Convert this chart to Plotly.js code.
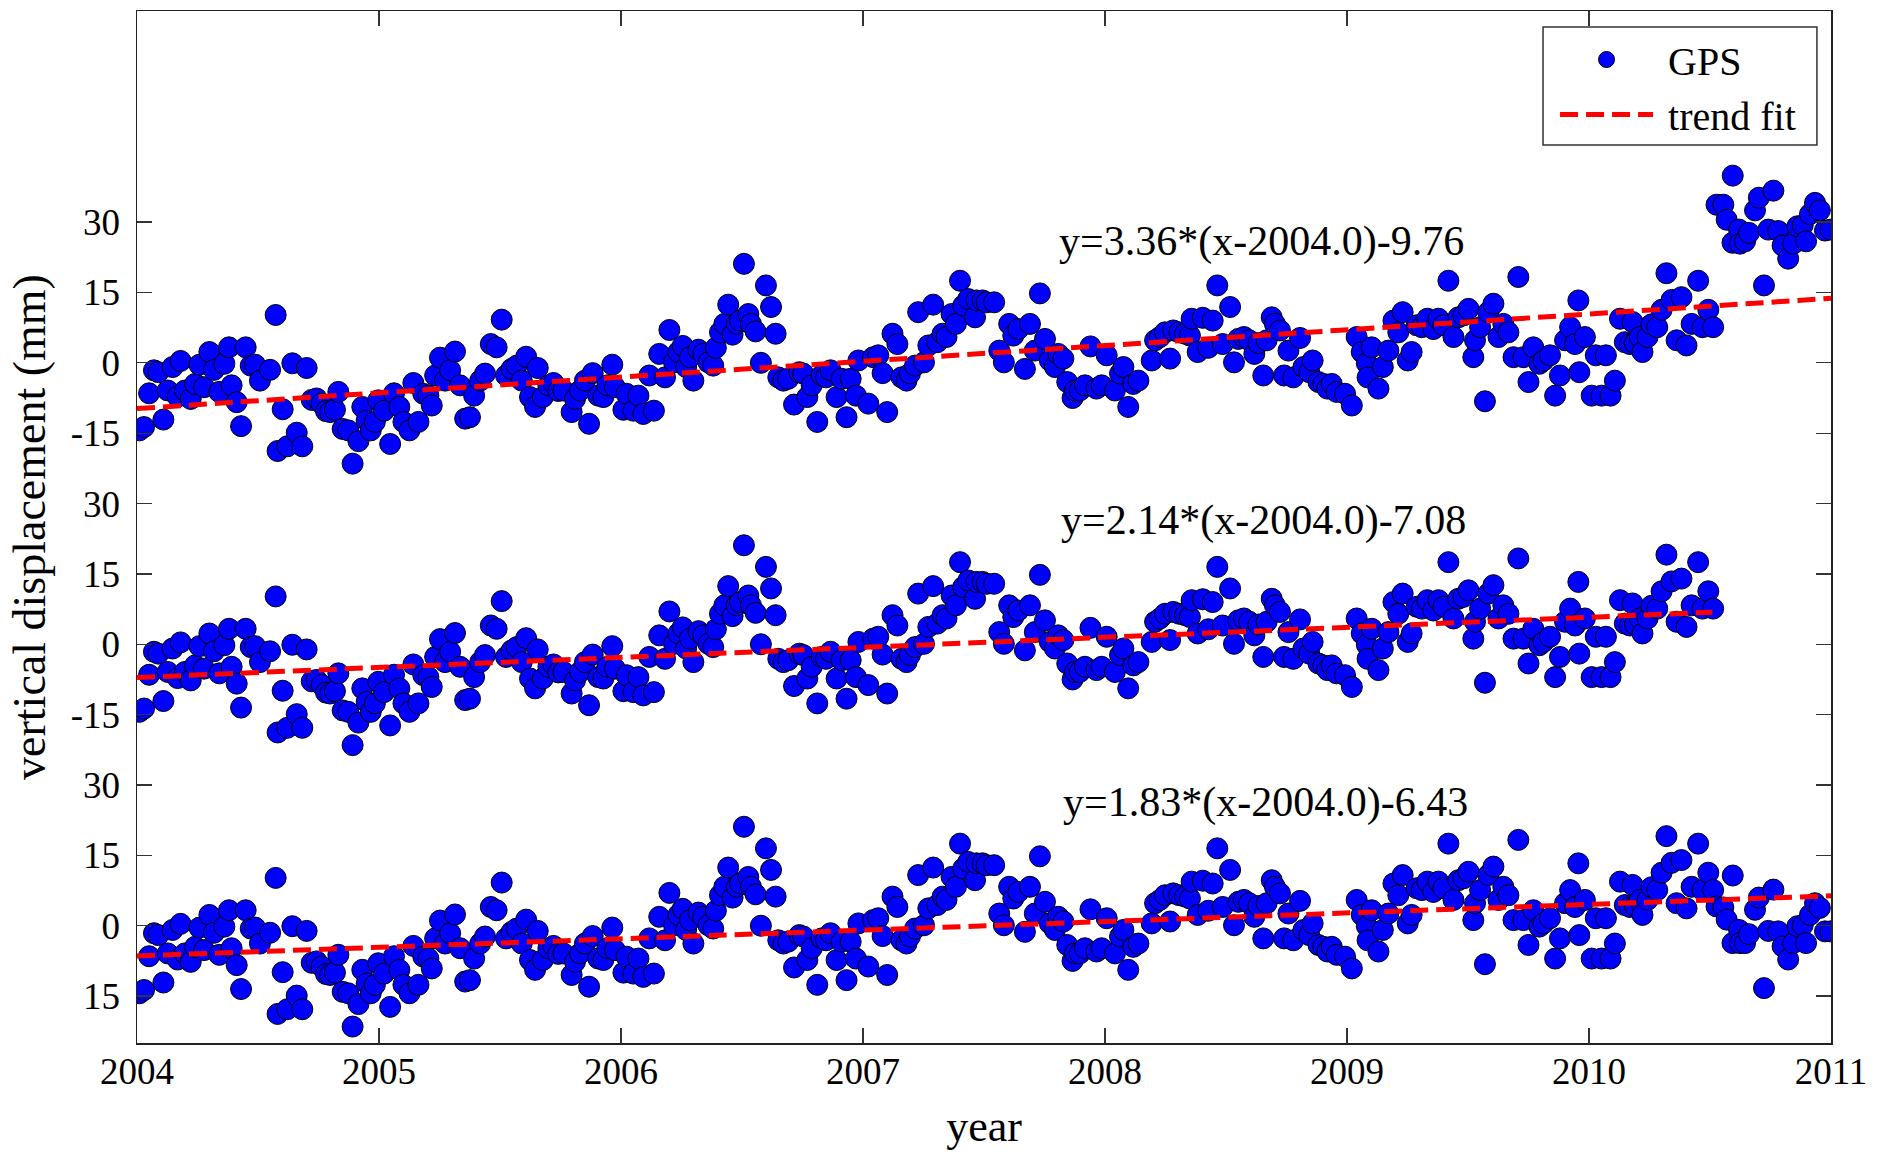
<!DOCTYPE html>
<html><head><meta charset="utf-8">
<script src="https://cdn.plot.ly/plotly-3.0.1.min.js"></script>
<style>html,body{margin:0;padding:0;background:#fff}#chart{width:1880px;height:1161px}</style>
</head><body><div id="chart"></div>
<script>
// Common GPS series (decimal year, vertical displacement in mm), 2004.0 - 2010.51
const gpsYears = [
2004.010,2004.029,2004.050,2004.070,2004.088,2004.109,2004.127,2004.147,2004.168,2004.180,
2004.198,2004.222,2004.240,2004.258,2004.277,2004.299,2004.318,2004.340,2004.361,2004.380,
2004.391,2004.412,2004.430,2004.449,2004.470,2004.488,2004.508,2004.550,2004.573,2004.581,
2004.602,2004.621,2004.642,2004.660,2004.683,2004.701,2004.722,2004.742,2004.763,2004.781,
2004.798,2004.818,2004.832,2004.850,2004.873,2004.891,2004.915,2004.931,2004.949,2004.966,
2004.983,2004.997,
2005.021,2005.046,2005.062,2005.084,2005.101,2005.126,2005.142,2005.163,2005.183,2005.204,
2005.218,2005.232,2005.252,2005.273,2005.294,2005.314,2005.335,2005.356,2005.376,2005.393,
2005.418,2005.438,2005.462,2005.486,2005.507,2005.525,2005.548,2005.569,2005.590,2005.608,
2005.624,2005.645,2005.656,2005.677,2005.700,2005.721,2005.741,2005.762,2005.796,2005.810,
2005.831,2005.851,2005.868,2005.883,2005.906,2005.927,2005.944,2005.964,2005.975,
2006.010,2006.023,2006.051,2006.072,2006.092,2006.117,2006.136,2006.158,2006.182,2006.200,
2006.219,2006.237,2006.255,2006.269,2006.285,2006.299,2006.320,2006.340,2006.361,2006.381,
2006.392,2006.409,2006.427,2006.443,2006.461,2006.478,2006.492,2006.508,2006.526,2006.537,
2006.556,2006.578,2006.599,2006.620,2006.639,2006.650,2006.671,2006.691,2006.715,2006.737,
2006.753,2006.770,2006.788,2006.811,2006.829,2006.847,2006.866,2006.891,2006.912,2006.932,
2006.949,2006.971,2006.981,
2007.022,2007.042,2007.063,2007.081,2007.100,2007.122,2007.142,2007.159,2007.180,2007.194,
2007.215,2007.228,2007.252,2007.270,2007.290,2007.307,2007.329,2007.345,2007.366,2007.384,
2007.401,2007.414,2007.435,2007.463,2007.469,2007.494,2007.511,2007.542,2007.563,2007.582,
2007.604,2007.621,2007.642,2007.669,2007.690,2007.710,2007.731,2007.752,2007.772,2007.793,
2007.807,2007.828,2007.844,2007.866,2007.876,2007.896,2007.917,2007.940,2007.965,
2007.986,2008.007,2008.041,2008.062,2008.076,2008.096,2008.117,2008.138,2008.193,2008.207,
2008.227,2008.248,2008.269,2008.282,2008.307,2008.331,2008.351,2008.358,2008.383,2008.404,
2008.427,2008.445,2008.464,2008.486,2008.517,2008.533,2008.551,2008.574,2008.596,2008.617,
2008.634,2008.654,2008.668,2008.689,2008.702,2008.723,2008.740,2008.758,2008.778,2008.806,
2008.820,2008.844,2008.858,2008.882,2008.902,2008.919,2008.937,2008.957,
2008.992,2009.020,2009.040,2009.061,2009.082,2009.085,2009.102,2009.130,2009.148,2009.171,
2009.192,2009.212,2009.230,2009.251,2009.267,2009.288,2009.309,2009.332,2009.357,2009.378,
2009.398,2009.419,2009.440,2009.460,2009.481,2009.502,2009.522,2009.529,2009.550,2009.570,
2009.584,2009.605,2009.626,2009.646,2009.667,2009.688,2009.708,2009.729,2009.750,2009.770,
2009.795,2009.812,2009.839,2009.860,2009.880,2009.901,2009.922,2009.942,2009.956,2009.960,
2009.983,2010.011,2010.028,2010.052,2010.070,2010.089,2010.107,2010.128,2010.148,2010.169,
2010.180,2010.190,2010.210,2010.221,2010.242,2010.258,2010.282,2010.300,2010.320,2010.341,
2010.362,2010.382,2010.403,2010.424,2010.451,2010.469,2010.493,2010.513
];
const gpsValues = [
-14.4,-13.7,-6.5,-1.6,-2.0,-12.1,-5.9,-0.9,-7.2,0.4,
-5.9,-7.7,-4.5,-0.4,-5.2,2.3,-1.5,-6.2,-0.2,3.3,
-4.8,-8.4,-13.5,3.3,-0.6,-0.4,-3.8,-1.5,10.2,-18.8,
-9.9,-17.8,-0.1,-14.9,-17.8,-1.1,-7.9,-7.6,-8.7,-10.3,
-10.5,-10.0,-6.2,-14.1,-14.4,-21.5,-16.7,-9.4,-12.3,-14.4,
-12.6,-8.0,
-10.2,-17.3,-6.5,-9.4,-12.6,-14.4,-4.3,-12.6,-6.6,-7.0,
-9.1,-2.7,1.1,-3.8,-1.6,2.4,-4.8,-11.9,-11.6,-7.0,
-3.8,-2.3,4.0,3.3,9.2,-2.7,-1.3,-0.6,-3.8,1.3,
-7.3,-9.4,-1.1,-7.3,-4.8,-4.3,-6.0,-5.9,-10.5,-7.7,
-5.9,-3.8,-13.0,-2.2,-7.0,-7.3,-4.8,-0.4,-5.2,
-10.0,-6.6,-10.2,-7.0,-10.9,-2.7,-10.2,1.9,-3.1,7.0,
0.1,2.3,3.6,-0.9,1.2,-3.8,2.8,1.9,0.1,-0.6,
3.2,6.5,8.3,12.4,6.0,8.3,9.0,21.1,10.4,8.3,
6.7,0.0,16.5,11.9,6.2,-3.1,-3.8,-3.4,-8.9,-2.0,
-2.3,-7.3,-4.8,-12.6,-2.7,-3.1,-1.6,-7.3,-3.4,-11.6,
-3.4,-7.0,0.5,
-8.7,1.2,1.6,-2.2,-10.5,6.2,4.0,-3.1,-3.8,-2.3,
-0.6,10.8,0.1,3.7,12.4,4.4,6.2,5.5,10.4,8.3,
17.5,12.2,13.6,9.7,13.3,13.3,12.9,12.9,2.6,0.1,
8.3,5.8,7.2,-1.3,8.3,2.6,14.8,5.1,0.5,-0.9,
1.9,0.9,-4.1,-7.5,-5.9,-5.9,-4.8,3.5,-5.5,
-4.8,1.6,-5.9,-2.3,-0.9,-9.4,-4.5,-3.8,0.5,4.8,
5.5,6.5,0.9,6.9,6.5,6.2,5.8,9.4,2.3,9.6,
3.2,9.0,16.5,4.0,11.9,0.1,5.1,5.5,4.8,1.9,
4.2,-2.7,4.8,9.7,8.3,6.9,-2.7,2.6,-3.1,5.3,
-0.9,-2.0,0.5,-4.1,-4.5,-5.5,-4.5,-6.2,
-6.6,-9.1,5.5,2.3,-0.1,-3.1,3.3,-5.5,-0.9,2.6,
9.0,6.5,10.8,0.5,2.3,8.0,7.6,9.4,7.2,9.4,
8.0,17.5,5.5,9.7,10.1,11.5,1.2,4.8,7.6,-8.2,
10.8,12.6,5.5,8.3,6.5,1.2,18.3,1.2,-4.1,3.3,
-0.2,0.5,1.6,-7.0,-2.7,4.8,7.6,4.0,13.3,-2.0,
5.5,-7.0,1.6,-7.0,1.6,-7.0,-3.8,9.4,4.4,4.0,
8.7,4.2,5.5,2.3,5.5,8.2,7.6,11.3,19.1,13.4,
4.8,14.0,3.7,8.3,17.5,7.6,11.3,7.6
];
// Late-2010 part of the top series (uncorrected)
const topTailYears = [2010.527,2010.555,2010.569,2010.593,2010.594,2010.620,2010.624,2010.645,2010.661,2010.686,
2010.702,2010.723,2010.741,2010.762,2010.782,2010.800,2010.823,2010.844,2010.861,2010.883,
2010.897,2010.913,2010.934,2010.954,2010.975,2010.998];
const topTailValues = [33.7,33.7,30.5,25.6,39.9,28.4,25.4,25.9,27.7,32.5,
35.2,16.5,28.4,36.7,28.1,25.0,22.2,25.4,29.1,29.3,
25.9,31.7,34.1,32.5,28.2,28.4];
// Late-2010 part of the bottom series
const bottomTailYears = [2010.527,2010.555,2010.569,2010.593,2010.594,2010.620,2010.624,2010.645,2010.661,2010.686,
2010.702,2010.723,2010.741,2010.762,2010.782,2010.800,2010.823,2010.844,2010.861,2010.883,
2010.897,2010.913,2010.934,2010.954,2010.975,2010.998];
const bottomTailValues = [4.1,3.9,1.3,-3.7,10.7,-0.9,-3.7,-3.7,-1.8,3.4,
6.0,-13.3,-1.1,7.7,-1.2,-4.4,-7.2,-3.7,-0.1,0.1,
-3.7,2.3,4.8,3.8,-1.2,-1.2];

const seriesOffsets = [120, 60, 0];           // top, middle, bottom panel baselines (mm)
const trendYearsTop = [2004, 2011];
const trendValuesTop = [-9.76, 13.76];
const trendYearsMid = [2004, 2010.51];
const trendValuesMid = [-7.08, 6.85];
const trendYearsBot = [2004, 2011];
const trendValuesBot = [-6.43, 6.38];
const fitLabels = ['y=3.36*(x-2004.0)-9.76', 'y=2.14*(x-2004.0)-7.08', 'y=1.83*(x-2004.0)-6.43'];
const fitLabelYears = [2007.80, 2007.81, 2007.82];
const fitLabelValues = [25.9, 26.4, 26.3];

const yTickVals = [-15,0,15,30, 45,60,75,90, 105,120,135,150];
const yTickText = ['15','0','15','30','-15','0','15','30','-15','0','15','30'];
const xTickVals = [2004,2005,2006,2007,2008,2009,2010,2011];
const xTickText = ['2004','2005','2006','2007','2008','2009','2010','2011'];

const FONT = 'Liberation Serif, Times New Roman, serif';
const shift = (arr, off) => arr.map(v => v + off);

const topY = shift(gpsValues.concat(topTailValues), seriesOffsets[0]);
const topX = gpsYears.concat(topTailYears);
const midY = shift(gpsValues, seriesOffsets[1]);
const midX = gpsYears;
const botY = shift(gpsValues.concat(bottomTailValues), seriesOffsets[2]);
const botX = gpsYears.concat(bottomTailYears);

const marker = {color:'#0000FF', size:21, line:{color:'#000', width:1}};
const trendLine = {color:'#FF0000', width:5, dash:'18px,8px'};

const traces = [
  {x:topX, y:topY, mode:'markers', type:'scatter', name:'\u00A0GPS', legendgroup:'gps', marker:marker, showlegend:true, hoverinfo:'skip'},
  {x:midX, y:midY, mode:'markers', type:'scatter', name:'GPS', legendgroup:'gps', marker:marker, showlegend:false, hoverinfo:'skip'},
  {x:botX, y:botY, mode:'markers', type:'scatter', name:'GPS', legendgroup:'gps', marker:marker, showlegend:false, hoverinfo:'skip'},
  {x:trendYearsTop, y:shift(trendValuesTop, seriesOffsets[0]), mode:'lines', type:'scatter', name:'\u00A0trend fit', legendgroup:'fit', line:trendLine, showlegend:true, hoverinfo:'skip'},
  {x:trendYearsMid, y:shift(trendValuesMid, seriesOffsets[1]), mode:'lines', type:'scatter', name:'trend fit', legendgroup:'fit', line:trendLine, showlegend:false, hoverinfo:'skip'},
  {x:trendYearsBot, y:shift(trendValuesBot, seriesOffsets[2]), mode:'lines', type:'scatter', name:'trend fit', legendgroup:'fit', line:trendLine, showlegend:false, hoverinfo:'skip'}
];

const annotations = fitLabels.map((t, i) => ({
  text: t, x: fitLabelYears[i], y: fitLabelValues[i] + seriesOffsets[i],
  xref:'x', yref:'y', xanchor:'left', yanchor:'middle', showarrow:false,
  font:{family:FONT, size:42, color:'#000'}
}));

const layout = {
  width:1880, height:1161,
  margin:{l:137, r:49, t:11, b:118, pad:0},
  paper_bgcolor:'#fff', plot_bgcolor:'#fff',
  showlegend:true,
  legend:{x:0.8371, xanchor:'left', y:0.9845, yanchor:'top', bgcolor:'rgba(0,0,0,0)',
    borderwidth:0, font:{family:FONT, size:40, color:'#000'},
    itemwidth:93, tracegroupgap:0, traceorder:'normal'},
  shapes:[{type:'rect', xref:'paper', yref:'paper', x0:0.8300, x1:0.9917, y0:0.8702, y1:0.9845,
    line:{color:'#333', width:1.5}, fillcolor:'#fff', layer:'above'}],
  xaxis:{range:[2004,2011], tickvals:xTickVals, ticktext:xTickText, ticks:'inside', ticklen:15,
    tickwidth:1.2, tickcolor:'#333', showline:true, linecolor:'#222', linewidth:1.5, mirror:'ticks',
    showgrid:false, zeroline:false, automargin:false, ticklabelstandoff:-5,
    tickfont:{family:FONT, size:37, color:'#000'},
    title:{text:'year', font:{family:FONT, size:44, color:'#000'}, standoff:19}},
  yaxis:{range:[-25,195], tickvals:yTickVals, ticktext:yTickText, ticks:'inside', ticklen:15,
    tickwidth:1.2, tickcolor:'#333', showline:true, linecolor:'#222', linewidth:1.5, mirror:'ticks',
    showgrid:false, zeroline:false, automargin:false, ticklabelstandoff:8,
    tickfont:{family:FONT, size:37, color:'#000'},
    title:{text:'vertical displacement (mm)', font:{family:FONT, size:46, color:'#000'}, standoff:10}},
  annotations: annotations
};

Plotly.newPlot('chart', traces, layout, {staticPlot:true, displayModeBar:false});
</script>
</body></html>
